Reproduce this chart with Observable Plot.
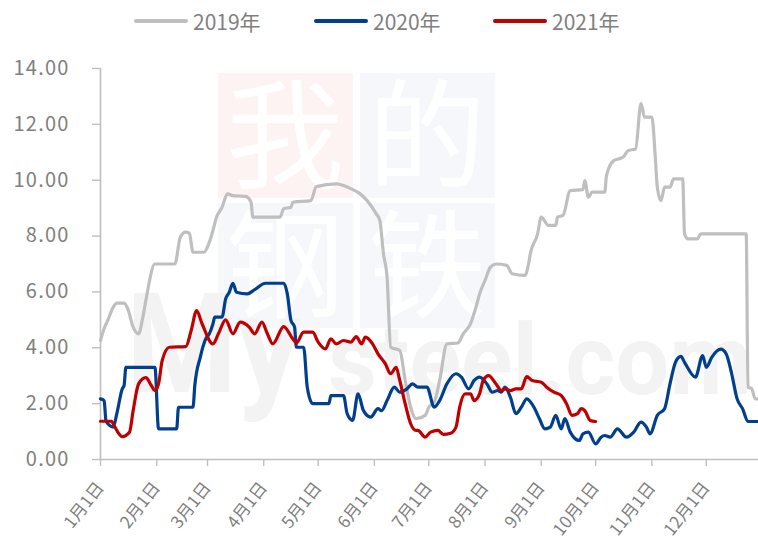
<!DOCTYPE html>
<html>
<head>
<meta charset="utf-8">
<script src="https://cdn.jsdelivr.net/npm/d3@7"></script>
<script src="https://cdn.jsdelivr.net/npm/@observablehq/plot@0.6"></script>
<style>
  body { margin: 0; background: #fff; font-family: "Noto Sans CJK SC", "Noto Sans", sans-serif; }
  #wrap { position: relative; width: 758px; height: 550px; overflow: hidden; }
  .leg { position: absolute; top: 7px; height: 28px; display: flex; align-items: center; color: #7f7f7f; font-size: 21px; }
  .leg span.sw { display: inline-block; width: 54px; height: 4px; border-radius: 2px; margin-right: 5px; }
</style>
</head>
<body>
<div id="wrap"></div>
<script>
// ---- data (day-of-year offsets from Jan 1, values) ----
const seriesNames = ["2019年", "2020年", "2021年"];
const seriesColors = ["#bfbfbf", "#003f8e", "#c00000"];

const days2019 = [0,2,4,7,9,13,15,18,21,23,25,26,30,41,44,47,49,51,57,60,62,64,67,70,73,80,83,84,99,101,105,106,116,119,130,134,138,143,147,152,154,156,158,160,165,168,171,174,179,181,184,187,191,197,200,204,207,209,212,215,218,224,227,234,236,237,241,243,247,251,252,255,259,266,267,269,271,278,279,283,286,288,291,295,298,300,304,306,307,309,311,314,316,321,322,324,329,331,356,357,359,361,363];
const vals2019 = [4.26,4.69,4.98,5.45,5.6,5.6,5.4,4.74,4.5,4.98,5.69,6.05,7.0,7.0,7.96,8.14,8.1,7.42,7.42,7.78,8.2,8.68,9.03,9.51,9.45,9.42,9.21,8.68,8.68,8.98,9.03,9.21,9.27,9.77,9.87,9.81,9.7,9.52,9.27,8.8,8.56,7.37,6.53,4.02,3.9,2.83,1.87,1.46,1.58,1.87,2.05,2.83,4.14,4.17,4.5,4.86,5.45,5.93,6.41,6.89,7.0,6.95,6.65,6.59,7.0,7.37,8.08,8.68,8.38,8.38,8.68,8.74,9.63,9.66,9.99,9.39,9.57,9.57,10.17,10.7,10.77,10.82,11.06,11.12,12.74,12.26,12.26,10.7,9.75,9.27,9.75,9.75,10.05,10.05,8.08,7.9,7.9,8.08,8.08,2.59,2.54,2.17,2.17];

const days2020 = [0,2,3,5,7,9,12,13,14,30,32,42,43,51,52,55,58,60,62,63,67,69,71,73,75,81,85,91,101,103,105,107,108,112,114,117,126,127,134,136,139,142,145,149,153,155,158,162,165,169,172,175,180,184,187,191,196,199,203,206,209,213,216,219,221,223,226,229,232,235,239,242,245,248,251,254,256,259,264,266,269,273,276,278,281,285,290,294,298,301,303,307,311,314,317,320,322,328,332,334,337,342,345,348,351,354,357,363];
const vals2020 = [2.17,2.11,1.4,1.22,1.16,1.64,2.53,2.65,3.3,3.3,1.1,1.1,1.87,1.87,2.65,3.66,4.32,4.5,4.86,5.1,5.1,5.75,5.99,6.31,5.99,5.93,6.08,6.31,6.31,5.93,4.98,4.74,4.02,4.02,2.59,2.0,2.0,2.29,2.29,1.64,1.4,2.35,1.75,1.52,1.82,1.75,2.11,2.59,2.41,2.53,2.71,2.59,2.59,1.87,2.11,2.71,3.07,2.95,2.53,2.83,2.95,2.71,2.41,2.47,2.41,2.59,2.23,1.64,1.87,2.17,1.87,1.46,1.1,1.16,1.58,1.1,1.46,0.98,0.68,0.92,0.98,0.56,0.8,0.86,0.8,1.1,0.8,0.98,1.34,1.16,0.92,1.58,1.82,2.71,3.48,3.69,3.48,2.95,3.72,3.3,3.66,3.95,3.78,3.07,2.17,1.82,1.36,1.36];

const days2021 = [0,6,7,9,12,16,18,21,25,28,30,32,34,38,47,50,53,56,62,65,69,73,77,82,85,89,92,95,101,106,108,112,117,120,124,127,130,134,138,141,144,146,150,153,157,160,163,165,168,171,174,175,179,182,186,189,193,196,198,201,204,206,209,211,214,218,221,223,226,229,232,235,238,243,246,250,254,257,260,263,265,267,270,273];
const vals2021 = [1.37,1.37,1.28,1.04,0.82,0.98,1.75,2.71,2.93,2.65,2.47,2.71,3.54,4.02,4.04,4.62,5.33,4.86,4.14,4.5,5.0,4.5,4.92,4.74,4.5,4.92,4.5,4.14,4.76,4.32,4.17,4.56,4.56,4.2,3.96,4.32,4.14,4.26,4.2,4.4,4.14,4.38,4.14,3.78,3.43,3.07,3.3,2.83,1.99,1.28,1.04,1.04,0.8,0.98,1.04,0.9,0.94,1.16,1.87,2.35,2.35,2.11,2.35,2.83,3.0,2.71,2.47,2.53,2.47,2.53,2.53,2.97,2.83,2.77,2.59,2.41,2.29,1.99,1.58,1.64,1.82,1.75,1.4,1.36];

const yTicks = [0, 2, 4, 6, 8, 10, 12, 14];
const monthTickLabels = ["1月1日","2月1日","3月1日","4月1日","5月1日","6月1日","7月1日","8月1日","9月1日","10月1日","11月1日","12月1日"];

// ---- build table ----
const base = new Date(2001, 0, 1);
const toDate = d => d3.timeDay.offset(base, d);
const allDays = [days2019, days2020, days2021];
const allVals = [vals2019, vals2020, vals2021];
const table = seriesNames.flatMap((name, s) =>
  allDays[s].map((d, i) => ({date: toDate(d), value: allVals[s][i], year: name})));
const monthStarts = d3.range(12).map(m => new Date(2001, m, 1));

const axisGray = "#bfbfbf";
const textGray = "#7f7f7f";

const chart = Plot.plot({
  width: 758,
  height: 550,
  marginTop: 68,
  marginBottom: 91,
  marginLeft: 100,
  marginRight: 0,
  style: {background: "transparent", fontFamily: "'Noto Sans CJK SC', 'Noto Sans', sans-serif"},
  x: {type: "time", domain: [new Date(2001, 0, 1), new Date(2001, 11, 31)], range: [100, 760.2], label: null},
  y: {domain: [0, 14], label: null},
  color: {domain: seriesNames, range: seriesColors},
  marks: [
    Plot.ruleX([new Date(2001, 0, 1)], {y1: 0, y2: 14, stroke: axisGray, strokeWidth: 1.6}),
    Plot.ruleY([0], {stroke: axisGray, strokeWidth: 1.6}),
    Plot.axisY({ticks: yTicks, tickFormat: d3.format(".2f"), tickSize: 8, tickPadding: 23, label: null,
      stroke: axisGray, strokeWidth: 1.4, fill: textGray, fontSize: 20}),
    Plot.axisX({ticks: monthStarts, tickFormat: d => monthTickLabels[d.getMonth()], tickSize: 7, label: null,
      tickPadding: 18, tickRotate: -52, stroke: axisGray, strokeWidth: 1.4, fill: textGray, fontSize: 17}),
    Plot.line(table, {x: "date", y: "value", z: "year", stroke: "year", strokeWidth: 3.2,
      curve: "monotone-x", strokeLinejoin: "round", strokeLinecap: "round"})
  ]
});

// watermark (decoration) behind the marks
const svg = d3.select(chart);
const wm = svg.insert("g", ":first-child").attr("aria-label", "watermark").attr("text-anchor", "start");
const sq = [["我", 218, 73, "#fdf3f3"], ["的", 360, 73, "#f5f7fb"], ["钢", 218, 203, "#f5f7fb"], ["铁", 360, 203, "#f5f7fb"]];
sq.forEach(([ch, x, y, c]) => {
  wm.append("rect").attr("x", x).attr("y", y).attr("width", 135).attr("height", 125).attr("fill", c);
  wm.append("text").attr("x", x + 67).attr("y", y + 106).attr("text-anchor", "middle")
    .attr("font-size", 118).attr("font-family", "'Noto Sans CJK SC'").attr("fill", "#ffffff").text(ch);
});
wm.append("text").attr("x", 126).attr("y", 392).attr("font-size", 140).attr("font-weight", 700)
  .attr("text-anchor", "start").attr("font-family", "Roboto, sans-serif").attr("fill", "#f3f3f3")
  .attr("textLength", 175).attr("lengthAdjust", "spacingAndGlyphs").text("My");
wm.append("text").attr("x", 328).attr("y", 394).attr("font-size", 98).attr("font-weight", 700)
  .attr("text-anchor", "start").attr("font-family", "Roboto, sans-serif").attr("fill", "#f3f3f3")
  .attr("textLength", 424).attr("lengthAdjust", "spacingAndGlyphs").text("steel.com");

svg.selectAll('g[aria-label="y-axis tick label"] text').style("letter-spacing", "1.2px");

const wrap = document.getElementById("wrap");
wrap.appendChild(chart);

// legend
const legPos = [134, 314, 493];
seriesNames.forEach((name, i) => {
  const d = document.createElement("div");
  d.className = "leg";
  d.style.left = legPos[i] + "px";
  d.innerHTML = `<span class="sw" style="background:${seriesColors[i]}"></span><span>${name}</span>`;
  wrap.appendChild(d);
});
</script>
</body>
</html>
